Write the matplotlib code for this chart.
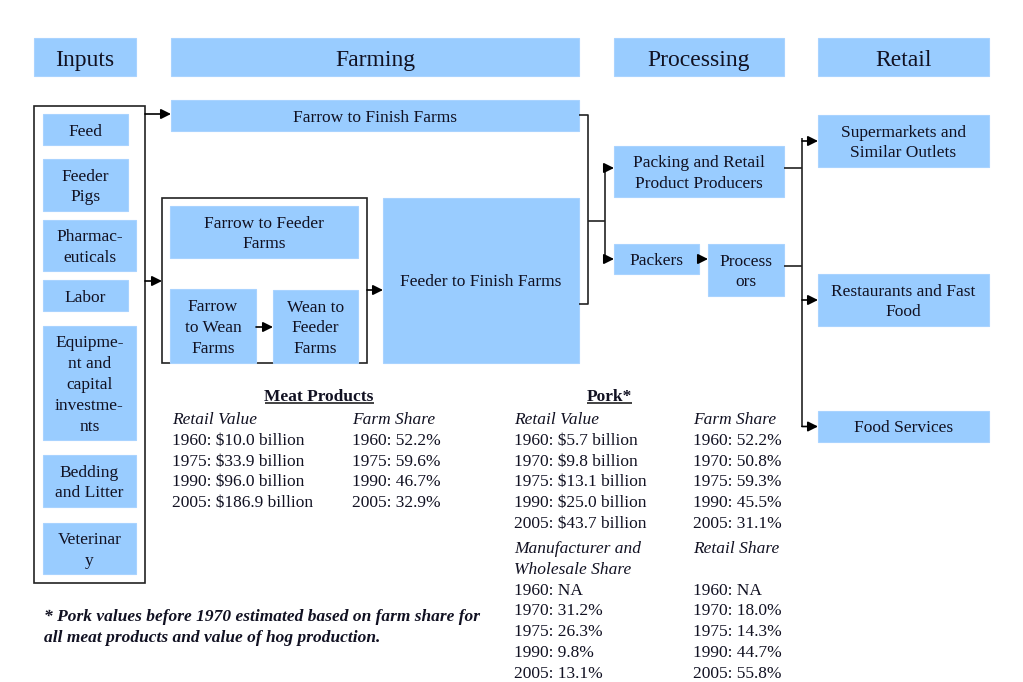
#!/usr/bin/env python

import matplotlib.pyplot as plt
from matplotlib.patches import Rectangle

plt.rcParams['font.family'] = ['Liberation Serif', 'DejaVu Serif']

BLUE = '#99ccff'
INK = '#111122'

headers = ['Inputs', 'Farming', 'Processing', 'Retail']
inputs = ['Feed', 'Feeder\nPigs', 'Pharmac-\neuticals', 'Labor',
          'Equipme-\nnt and\ncapital\ninvestme-\nnts', 'Bedding\nand Litter',
          'Veterinar\ny']
retail = ['Supermarkets and\nSimilar Outlets', 'Restaurants and Fast\nFood',
          'Food Services']

meat_years = ['1960', '1975', '1990', '2005']
meat_retail_value = ['$10.0 billion', '$33.9 billion', '$96.0 billion', '$186.9 billion']
meat_farm_share = ['52.2%', '59.6%', '46.7%', '32.9%']

pork_years = ['1960', '1970', '1975', '1990', '2005']
pork_retail_value = ['$5.7 billion', '$9.8 billion', '$13.1 billion',
                     '$25.0 billion', '$43.7 billion']
pork_farm_share = ['52.2%', '50.8%', '59.3%', '45.5%', '31.1%']
pork_mfr_share = ['NA', '31.2%', '26.3%', '9.8%', '13.1%']
pork_retail_share = ['NA', '18.0%', '14.3%', '44.7%', '55.8%']

footnote = ['* Pork values before 1970 estimated based on farm share for',
            'all meat products and value of hog production.']

fig = plt.figure(figsize=(10.23, 6.82), dpi=100)
ax = fig.add_axes([0, 0, 1, 1])
ax.set_xlim(0, 1023)
ax.set_ylim(682, 0)
ax.axis('off')

FS = 12.5
ROW = 20.8
DY = 2  # text sits a touch below the geometric centre


def box(x0, y0, x1, y1, text='', fs=FS, dy=DY):
    ax.add_patch(Rectangle((x0, y0), x1 - x0, y1 - y0, facecolor=BLUE,
                           edgecolor='#a9d3ff', lw=0.8))
    if text:
        ax.text((x0 + x1) / 2, (y0 + y1) / 2 + dy, text, ha='center', va='center',
                fontsize=fs, color=INK, linespacing=1.4)


def frame(x0, y0, x1, y1):
    ax.add_patch(Rectangle((x0, y0), x1 - x0, y1 - y0, facecolor='none',
                           edgecolor='#222222', lw=1.2))


def arrow(x0, y0, x1, y1):
    ax.annotate('', xy=(x1, y1), xytext=(x0, y0),
                arrowprops=dict(arrowstyle='-|>', color='black', lw=1.2,
                                mutation_scale=15, shrinkA=0, shrinkB=0))


def line(xs, ys):
    ax.plot(xs, ys, color='#222222', lw=1.2, solid_capstyle='butt')


# header row
for (x0, x1), name in zip([(34, 136), (171, 579), (614, 784), (818, 989)], headers):
    box(x0, 38, x1, 76, name, fs=17, dy=3.5)

# inputs column
frame(34, 106, 145, 583)
input_spans = [(43, 128, 114, 145), (43, 128, 159, 211), (43, 136, 220, 271),
               (43, 128, 280, 311), (43, 136, 326, 440), (43, 136, 455, 507),
               (43, 136, 523, 574)]
for (x0, x1, y0, y1), name in zip(input_spans, inputs):
    box(x0, y0, x1, y1, name)

# farming
box(171, 100, 579, 131, 'Farrow to Finish Farms')
frame(162, 198, 367, 363)
box(170, 206, 358, 258, 'Farrow to Feeder\nFarms')
box(170, 289, 256, 363, 'Farrow\nto Wean\nFarms')
box(273, 290, 358, 363, 'Wean to\nFeeder\nFarms')
box(383, 198, 579, 363, 'Feeder to Finish Farms', dy=2)
arrow(145, 114, 171, 114)
arrow(145, 281, 162, 281)
arrow(256, 327, 273, 327)
arrow(367, 290, 383, 290)

# processing
line([579, 588, 588, 579], [115, 115, 304, 304])
line([588, 605], [221, 221])
line([605, 605], [168, 259])
arrow(605, 168, 614, 168)
arrow(605, 259, 614, 259)
box(614, 146, 784, 197, 'Packing and Retail\nProduct Producers')
box(614, 244, 699, 274, 'Packers')
box(708, 244, 784, 296, 'Process\nors')
arrow(699, 259, 708, 259)

# retail
line([784, 802], [168, 168])
line([784, 802], [266, 266])
line([802, 802], [138, 427])
for (y0, y1), name in zip([(115, 167), (274, 326), (411, 442)], retail):
    arrow(802, (y0 + y1) / 2, 818, (y0 + y1) / 2)
    box(818, y0, 989, y1, name)


# data tables
def title(x, y, text, u0, u1):
    ax.text(x, y + DY, text, ha='center', va='center', fontsize=FS,
            fontweight='bold', color=INK)
    line([u0, u1], [y + 8, y + 8])


def column(x, y, head, rows):
    for i, h in enumerate(head):
        ax.text(x, y + i * ROW + DY, h, ha='left', va='center', fontsize=FS,
                style='italic', color=INK)
    for i, r in enumerate(rows):
        ax.text(x, y + (i + len(head)) * ROW + DY, r, ha='left', va='center',
                fontsize=FS, color=INK)


title(319, 395, 'Meat Products', 265, 374)
column(172, 418, ['Retail Value'],
       [f'{y}: {v}' for y, v in zip(meat_years, meat_retail_value)])
column(352, 418, ['Farm Share'],
       [f'{y}: {v}' for y, v in zip(meat_years, meat_farm_share)])

title(609, 395, 'Pork*', 587, 632)
column(514, 418, ['Retail Value'],
       [f'{y}: {v}' for y, v in zip(pork_years, pork_retail_value)])
column(693, 418, ['Farm Share'],
       [f'{y}: {v}' for y, v in zip(pork_years, pork_farm_share)])
column(514, 547, ['Manufacturer and', 'Wholesale Share'],
       [f'{y}: {v}' for y, v in zip(pork_years, pork_mfr_share)])
column(693, 547, ['Retail Share', ''],
       [f'{y}: {v}' for y, v in zip(pork_years, pork_retail_share)])

for i, t in enumerate(footnote):
    ax.text(44, 615 + i * ROW + DY, t, ha='left', va='center', fontsize=FS,
            fontweight='bold', style='italic', color=INK)

fig.savefig('out.png', dpi=100)
